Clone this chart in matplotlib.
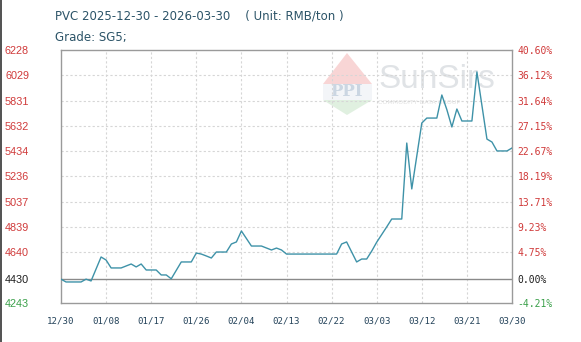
import matplotlib
matplotlib.use("Agg")
import matplotlib.pyplot as plt
from matplotlib.patches import Polygon
from matplotlib.lines import Line2D

# ---- data ----
days = [0, 1, 4, 5, 6, 8, 9, 10, 12, 14, 15, 16, 17, 19, 20, 21, 22, 24, 26, 27,
        28, 29, 30, 31, 33, 34, 35, 36, 38, 40, 42, 43, 44, 45, 55, 56, 57, 59, 60, 61,
        62, 63, 64, 65, 66, 68, 69, 70, 72, 73, 75, 76, 77, 78, 79, 80, 82, 83, 85, 86,
        87, 89, 90]
prices = [4430, 4408, 4408, 4430, 4416, 4604, 4580, 4518, 4518, 4549, 4526, 4549, 4502, 4502, 4463, 4463, 4433, 4565, 4565, 4635,
          4627, 4612, 4596, 4643, 4643, 4706, 4722, 4808, 4690, 4690, 4659, 4674, 4659, 4627, 4627, 4706, 4722, 4565, 4588, 4588,
          4650, 4720, 4780, 4840, 4902, 4902, 5498, 5138, 5655, 5694, 5694, 5875, 5760, 5624, 5765, 5671, 5671, 6056, 5529, 5506,
          5436, 5436, 5459]
base = 4430
ytick_vals = [4243, 4430, 4640, 4839, 5037, 5236, 5434, 5632, 5831, 6029, 6228]
ytick_labels = ["4243", "4430", "4640", "4839", "5037", "5236", "5434", "5632", "5831", "6029", "6228"]
pct_labels = ["-4.21%", "0.00%", "4.75%", "9.23%", "13.71%", "18.19%", "22.67%", "27.15%", "31.64%", "36.12%", "40.60%"]
xtick_days = [0, 9, 18, 27, 36, 45, 54, 63, 72, 81, 90]
xtick_labels = ["12/30", "01/08", "01/17", "01/26", "02/04", "02/13", "02/22", "03/03", "03/12", "03/21", "03/30"]
title = "PVC 2025-12-30 - 2026-03-30    ( Unit: RMB/ton )"
subtitle = "Grade: SG5;"

W, H = 581, 342
fig = plt.figure(figsize=(W / 100, H / 100), dpi=100)
fig.patch.set_facecolor("white")
ax = fig.add_axes([61 / W, (H - 303) / H, 451 / W, 253 / H])
ymin, ymax = 4243, 6228
ax.set_xlim(0, 90)
ax.set_ylim(ymin, ymax)

# grid
for d in xtick_days[1:-1]:
    ax.axvline(d, color="#d6d6d6", lw=0.8, ls=(0, (2, 2)), zorder=1)
for v in ytick_vals[2:-1]:
    ax.axhline(v, color="#d6d6d6", lw=0.8, ls=(0, (2, 2)), zorder=1)
ax.axhline(base, color="#8a8a8a", lw=1.0, zorder=2)

# watermark (in axes pixel layout)
def px(x, y):
    return ((x - 61) / 451, (303 - y) / 253)

top = Polygon([px(323, 84), px(347, 53), px(372, 84)], closed=True, transform=ax.transAxes,
              facecolor="#f6c4c4", edgecolor="none", alpha=0.7, zorder=0.5)
mid = Polygon([px(323, 84), px(372, 84), px(372, 100), px(323, 100)], closed=True, transform=ax.transAxes,
              facecolor="#eef2f6", edgecolor="none", alpha=0.7, zorder=0.5)
bot = Polygon([px(323, 100), px(372, 100), px(347, 115)], closed=True, transform=ax.transAxes,
              facecolor="#d3ead3", edgecolor="none", alpha=0.7, zorder=0.5)
for p in (top, mid, bot):
    ax.add_patch(p)
x0, y0 = px(347, 92)
ax.text(x0, y0, "PPI", transform=ax.transAxes, ha="center", va="center", fontsize=12,
        fontweight="bold", color="#cbd6e2", family="DejaVu Serif", zorder=0.6)
x1, y1 = px(378, 80)
ax.text(x1, y1, "SunSirs", transform=ax.transAxes, ha="left", va="center", fontsize=24,
        color="#e0e3e6", family="Liberation Sans", zorder=0.6)
x2, y2 = px(378, 102)
ax.text(x2, y2, "COMMODITY DATA GROUP", transform=ax.transAxes, ha="left", va="center", fontsize=4.5,
        color="#e0e0e0", family="DejaVu Sans", zorder=0.6)

# line
ax.plot(days, prices, color="#3e92a8", lw=1.0, zorder=3)

# spines
for s in ax.spines.values():
    s.set_color("#9a9a9a")
    s.set_linewidth(1.0)

# ticks
ax.set_xticks(xtick_days)
ax.set_xticklabels(xtick_labels, family="DejaVu Sans Mono", fontsize=6.6, color="#24435a")
ax.tick_params(axis="x", length=0, pad=10)
ax.set_yticks(ytick_vals)
ax.set_yticklabels(ytick_labels, family="Liberation Sans", fontsize=7.8)
ax.tick_params(axis="y", length=0, pad=23)
for lbl, v in zip(ax.get_yticklabels(), ytick_vals):
    lbl.set_color("#1e1e1e" if v == base else ("#3aa04a" if v < base else "#d03a3a"))

ax2 = ax.twinx()
ax2.set_ylim(ymin, ymax)
ax2.set_yticks(ytick_vals)
ax2.set_yticklabels(pct_labels, family="DejaVu Sans Mono", fontsize=7)
ax2.tick_params(axis="y", length=0, pad=4)
for lbl, v in zip(ax2.get_yticklabels(), ytick_vals):
    lbl.set_color("#1e1e1e" if v == base else ("#3aa04a" if v < base else "#d03a3a"))
for s in ax2.spines.values():
    s.set_visible(False)

# titles
fig.text(55 / W, 1 - 16 / H, title, ha="left", va="center", fontsize=8.5,
         color="#2c5468", family="DejaVu Sans")
fig.text(55 / W, 1 - 37 / H, subtitle, ha="left", va="center", fontsize=8.5,
         color="#2c5468", family="DejaVu Sans")

# left edge frame line
fig.add_artist(Line2D([0.8 / W, 0.8 / W], [0, 1], transform=fig.transFigure, color="#333333", lw=1.2))

fig.savefig("out.png", dpi=100)
